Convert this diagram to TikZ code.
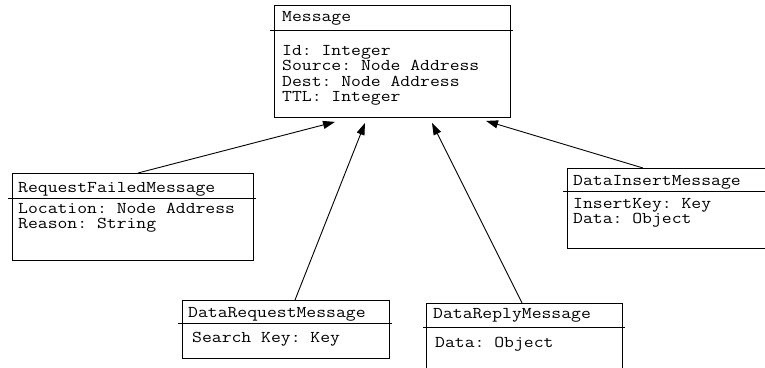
\documentclass[tikz,border=0pt]{standalone}
\usepackage{fontspec}
\setmonofont{Latin Modern Mono}[FakeStretch=1.16]
\usetikzlibrary{arrows.meta}
% stack of attribute lines, baseline of the node = baseline of the first line
\newcommand{\attrlines}[1]{\vtop{\baselineskip=15.5pt\lineskiplimit=-30pt\lineskip=0pt #1}}
\begin{document}
\begin{tikzpicture}[x=1pt,y=-1pt,
  classbox/.style={draw, line width=0.9pt, inner sep=0pt, anchor=north west},
  sepline/.style={draw, line width=0.9pt},
  txt/.style={anchor=base west, inner sep=0pt, font=\fontsize{16.5}{15.5}\selectfont\ttfamily},
  inherit/.style={draw, line width=0.9pt, -{Triangle[length=12pt,width=8pt]}},
]
\useasboundingbox (0,0) rectangle (765,367);
\clip (0,0) rectangle (765,367);

% class boxes
\node[classbox, minimum width=236pt, minimum height=112pt] (msg) at (274,5) {};
\node[classbox, minimum width=241pt, minimum height=87pt] (rfm) at (12,173) {};
\node[classbox, minimum width=201pt, minimum height=80pt] (dim) at (567,168) {};
\node[classbox, minimum width=207pt, minimum height=58pt] (drq) at (182,300) {};
\node[classbox, minimum width=196pt, minimum height=72pt] (drp) at (426,303) {};

% compartment separators
\draw[sepline] ([xshift=-4pt,yshift=-25pt]msg.north west) -- ([xshift=2pt,yshift=-25pt]msg.north east);
\draw[sepline] ([xshift=-4pt,yshift=-25pt]rfm.north west) -- ([xshift=2pt,yshift=-25pt]rfm.north east);
\draw[sepline] ([xshift=-4pt,yshift=-23pt]dim.north west) -- ([xshift=2pt,yshift=-23pt]dim.north east);
\draw[sepline] ([xshift=-4pt,yshift=-23pt]drq.north west) -- ([xshift=2pt,yshift=-23pt]drq.north east);
\draw[sepline] ([xshift=-3pt,yshift=-24pt]drp.north west) -- ([xshift=2pt,yshift=-24pt]drp.north east);

% Message
\node[txt] (msgT) at (282,21) {Message};
\node[txt] (msgA) at (282,55) {\attrlines{\hbox{Id: Integer}\hbox{Source: Node Address}\hbox{Dest: Node Address}\hbox{TTL: Integer}}};

% RequestFailedMessage
\node[txt] (rfmT) at (18,192) {RequestFailedMessage};
\node[txt] (rfmA) at (18,213) {\attrlines{\hbox{Location: Node Address}\hbox{Reason: String}}};

% DataInsertMessage
\node[txt] (dimT) at (573,185) {DataInsertMessage};
\node[txt] (dimA) at (573,208) {\attrlines{\hbox{InsertKey: Key}\hbox{Data: Object}}};

% DataRequestMessage
\node[txt] (drqT) at (188,317) {DataRequestMessage};
\node[txt] (drqA) at (192,342) {Search Key: Key};

% DataReplyMessage
\node[txt] (drpT) at (433,318) {DataReplyMessage};
\node[txt] (drpA) at (435,347) {Data: Object};

% generalisation arrows
\draw[inherit] ([xshift=126pt]rfm.north west) -- ([xshift=61pt,yshift=-4pt]msg.south west);
\draw[inherit] ([xshift=113pt]drq.north west) -- ([xshift=91pt,yshift=-5pt]msg.south west);
\draw[inherit] ([xshift=96pt]drp.north west) -- ([xshift=158pt,yshift=-5pt]msg.south west);
\draw[inherit] ([xshift=76pt]dim.north west) -- ([xshift=212pt,yshift=-3pt]msg.south west);
\end{tikzpicture}
\end{document}
